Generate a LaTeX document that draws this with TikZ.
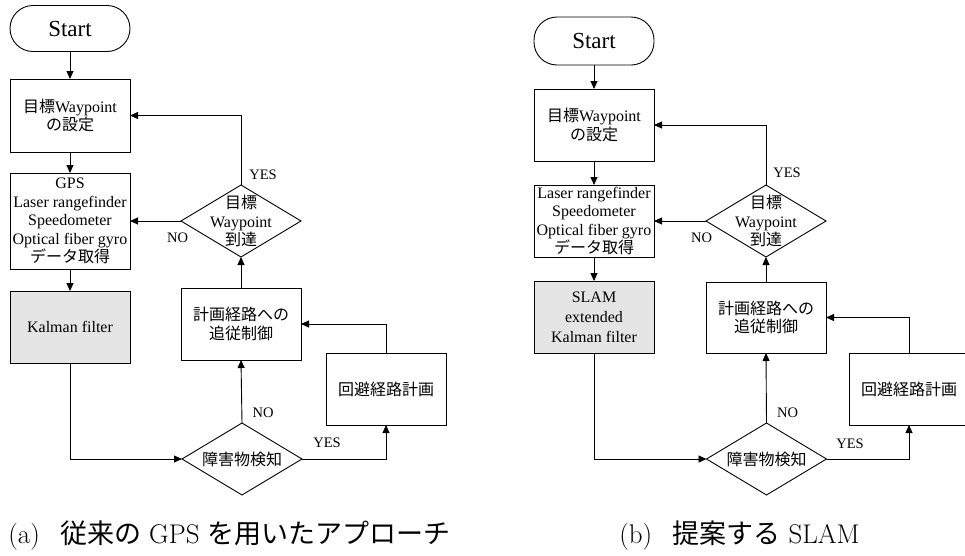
\documentclass[tikz,border=0pt]{standalone}
\usepackage{fontspec}
\usetikzlibrary{arrows.meta,shapes.geometric}
\newfontfamily\tms{Liberation Serif}
\newfontfamily\jpfont{Noto Sans CJK JP}
\newcommand\J[1]{{\jpfont #1}}
\begin{document}
\begin{tikzpicture}[x=1pt,y=-1pt,
  every node/.style={inner sep=0pt,outer sep=0pt},
  lw/.style={line width=0.9pt},
  txt/.style={font=\tms\fontsize{16}{18.5}\selectfont,align=center},
  lbl/.style={font=\tms\fontsize{14.5}{16}\selectfont},
  box/.style={draw,lw,rectangle,minimum width=120pt,minimum height=72pt,txt},
  graybox/.style={box,fill=gray!20,font=\tms\fontsize{16}{20}\selectfont},
  startbox/.style={draw,lw,rounded corners=23pt,minimum width=120pt,minimum height=46pt,font=\tms\fontsize{23}{26}\selectfont},
  dia/.style={draw,lw,diamond,minimum width=120pt,minimum height=72pt},
  arr/.style={lw,-{Triangle[length=8pt,width=7pt]}},
  captext/.style={font=\fontsize{27}{30}\selectfont}
]
\clip (0,0) rectangle (965,555);
\fill[white] (0,0) rectangle (965,555);

% ---------- (a) ----------
\node[startbox] (sA) at (70,28.5) {Start};
\node[box,minimum height=73pt] (A1) at (70,115.5) {\J{目標}Waypoint\\\J{の設定}};
\node[box,minimum height=96pt] (A2) at (70,221) {GPS\\Laser rangefinder\\Speedometer\\Optical fiber gyro\\\J{データ取得}};
\node[graybox] (A3) at (70,327) {\tms Kalman filter};
\node[dia] (dA1) at (241,221) {};
\node[txt] (dA1t) at (dA1.center) {\J{目標}\\Waypoint\\\J{到達}};
\node[box] (A4) at (241,324) {\J{計画経路への}\\\J{追従制御}};
\node[box] (A5) at (386,389) {\J{回避経路計画}};
\node[dia] (dA2) at (242,459) {};
\node[txt] (dA2t) at (dA2.center) {\J{障害物検知}};

\draw[arr] (sA.south) -- (A1.north);
\draw[arr] (A1.south) -- (A2.north);
\draw[arr] (A2.south) -- (A3.north);
\draw[arr] (A3.south) |- (dA2.west);
\draw[arr] (dA2.north) -- (A4.south);
\draw[arr] (A4.north) -- (dA1.south);
\draw[arr] (dA1.north) |- (A1.east);
\draw[arr] (dA1.west) -- (A2.east);
\draw[arr] (dA2.east) -| (A5.south);
\draw[arr] (A5.north) |- (A4.east);

\node[lbl] (yA1) at (263,175) {YES};
\node[lbl] (nA1) at (177.5,238) {NO};
\node[lbl] (nA2) at (263,413) {NO};
\node[lbl] (yA2) at (327,443) {YES};

% ---------- (b) ----------
\node[startbox,minimum height=48pt] (sB) at (594,41) {Start};
\node[box] (B1) at (594,125) {\J{目標}Waypoint\\\J{の設定}};
\node[box] (B2) at (594,221) {Laser rangefinder\\Speedometer\\Optical fiber gyro\\\J{データ取得}};
\node[graybox] (B3) at (594,317) {SLAM\\extended\\Kalman filter};
\node[dia] (dB1) at (766,221) {};
\node[txt] (dB1t) at (dB1.center) {\J{目標}\\Waypoint\\\J{到達}};
\node[box,minimum height=71pt] (B4) at (766,317.5) {\J{計画経路への}\\\J{追従制御}};
\node[box] (B5) at (909,389) {\J{回避経路計画}};
\node[dia] (dB2) at (766.5,459) {};
\node[txt] (dB2t) at (dB2.center) {\J{障害物検知}};

\draw[arr] (sB.south) -- (B1.north);
\draw[arr] (B1.south) -- (B2.north);
\draw[arr] (B2.south) -- (B3.north);
\draw[arr] (B3.south) |- (dB2.west);
\draw[arr] (dB2.north) -- (B4.south);
\draw[arr] (B4.north) -- (dB1.south);
\draw[arr] (dB1.north) |- (B1.east);
\draw[arr] (dB1.west) -- (B2.east);
\draw[arr] (dB2.east) -| (B5.south);
\draw[arr] (B5.north) |- (B4.east);

\node[lbl] (yB1) at (787,173) {YES};
\node[lbl] (nB1) at (701.5,238) {NO};
\node[lbl] (nB2) at (787.5,413) {NO};
\node[lbl] (yB2) at (850,444) {YES};

% ---------- captions ----------
\node[captext] (capA) at (229.5,536) {(a)\hspace{0.75em}\J{従来の}\hspace{0.3em}GPS\hspace{0.3em}\J{を用いたアプローチ}};
\node[captext] (capB) at (739.5,536) {(b)\hspace{0.75em}\J{提案する}\hspace{0.3em}SLAM};
\end{tikzpicture}
\end{document}
